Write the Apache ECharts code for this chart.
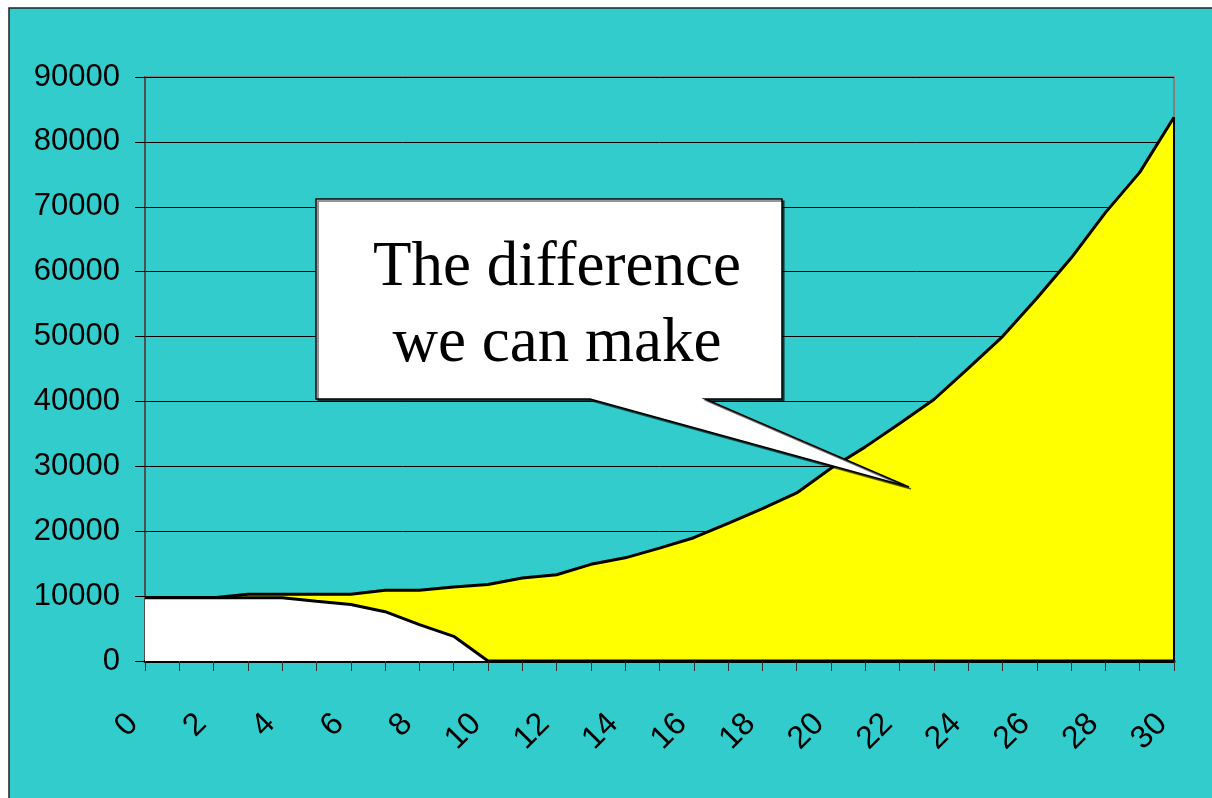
<!DOCTYPE html>
<html>
<head>
<meta charset="utf-8">
<script src="https://cdn.jsdelivr.net/npm/echarts@6/dist/echarts.min.js"></script>
<style>
html,body{margin:0;padding:0;background:#fff;}
#c{width:1212px;height:798px;}
</style>
</head>
<body>
<div id="c"></div>
<script>
var categories = ['0','1','2','3','4','5','6','7','8','9','10','11','12','13','14','15','16','17','18','19','20','21','22','23','24','25','26','27','28','29','30'];
var withoutAction = [9750, 9750, 9750, 10300, 10300, 10300, 10300, 10900, 10900, 11400, 11800, 12800, 13300, 14900, 15900, 17400, 19000, 21200, 23500, 25900, 29700, 33000, 36600, 40300, 45100, 50000, 55900, 62100, 69100, 75300, 83800];
var withAction = [9750, 9750, 9750, 9750, 9750, 9200, 8700, 7600, 5600, 3800, 0, 0, 0, 0, 0, 0, 0, 0, 0, 0, 0, 0, 0, 0, 0, 0, 0, 0, 0, 0, 0];
var calloutLines = ['The difference', 'we can make'];

var chart = echarts.init(document.getElementById('c'));
var labelFont = "'Liberation Sans', Arial, sans-serif";
chart.setOption({
  backgroundColor: '#ffffff',
  animation: false,
  grid: {left: 145, right: 38, top: 77, bottom: 137, show: true, borderColor: '#808080', borderWidth: 2, backgroundColor: 'transparent'},
  graphic: {elements: [
    {type: 'rect', z: -10, shape: {x: 9, y: 8, width: 1220, height: 810}, style: {fill: '#33CCCC', stroke: '#222', lineWidth: 1.5}},
    {type: 'polygon', z: 100, shape: {points: [[316,199],[782,199],[782,399],[705,399],[909,487],[590,399],[316,399]]},
      style: {fill: '#ffffff', stroke: '#000', lineWidth: 1.5, shadowColor: 'rgba(0,0,0,0.55)', shadowOffsetX: 2, shadowOffsetY: 2, shadowBlur: 0}},
    {type: 'text', z: 101, x: 557, y: 268, style: {text: calloutLines[0], fill: '#000', font: "63px 'Liberation Serif', 'Times New Roman', serif", align: 'center', verticalAlign: 'middle'}},
    {type: 'text', z: 101, x: 557, y: 344, style: {text: calloutLines[1], fill: '#000', font: "63px 'Liberation Serif', 'Times New Roman', serif", align: 'center', verticalAlign: 'middle'}}
  ]},
  xAxis: {
    type: 'category', data: categories, boundaryGap: false,
    axisLine: {lineStyle: {color: '#000', width: 3}},
    axisTick: {show: true, interval: 0, length: 10, lineStyle: {color: '#333', width: 1}},
    axisLabel: {interval: 1, rotate: 45, margin: 46, padding: [0, 17, 0, 0], color: '#000', fontSize: 32, fontFamily: labelFont},
    splitLine: {show: false}
  },
  yAxis: {
    type: 'value', min: 0, max: 90000, interval: 10000,
    axisLine: {show: true, lineStyle: {color: '#404040', width: 1.5}},
    axisTick: {show: true, length: 10, lineStyle: {color: '#000', width: 1}},
    axisLabel: {margin: 25, color: '#000', fontSize: 31, fontFamily: labelFont, formatter: function (v) { return String(v); }},
    splitLine: {show: true, lineStyle: {color: '#000', width: 1}}
  },
  series: [
    {type: 'line', data: withoutAction, symbol: 'none', z: 3,
      lineStyle: {color: '#000', width: 3}, areaStyle: {color: '#FFFF00', opacity: 1},
      markLine: {symbol: 'none', silent: true, label: {show: false}, lineStyle: {color: '#000', width: 2, type: 'solid'},
        data: [[{coord: [categories[categories.length-1], 0]}, {coord: [categories[categories.length-1], withoutAction[withoutAction.length-1]]}]]}},
    {type: 'line', data: withAction, symbol: 'none', z: 4,
      lineStyle: {color: '#000', width: 3}, areaStyle: {color: '#FFFFFF', opacity: 1}}
  ]
});
</script>
</body>
</html>
